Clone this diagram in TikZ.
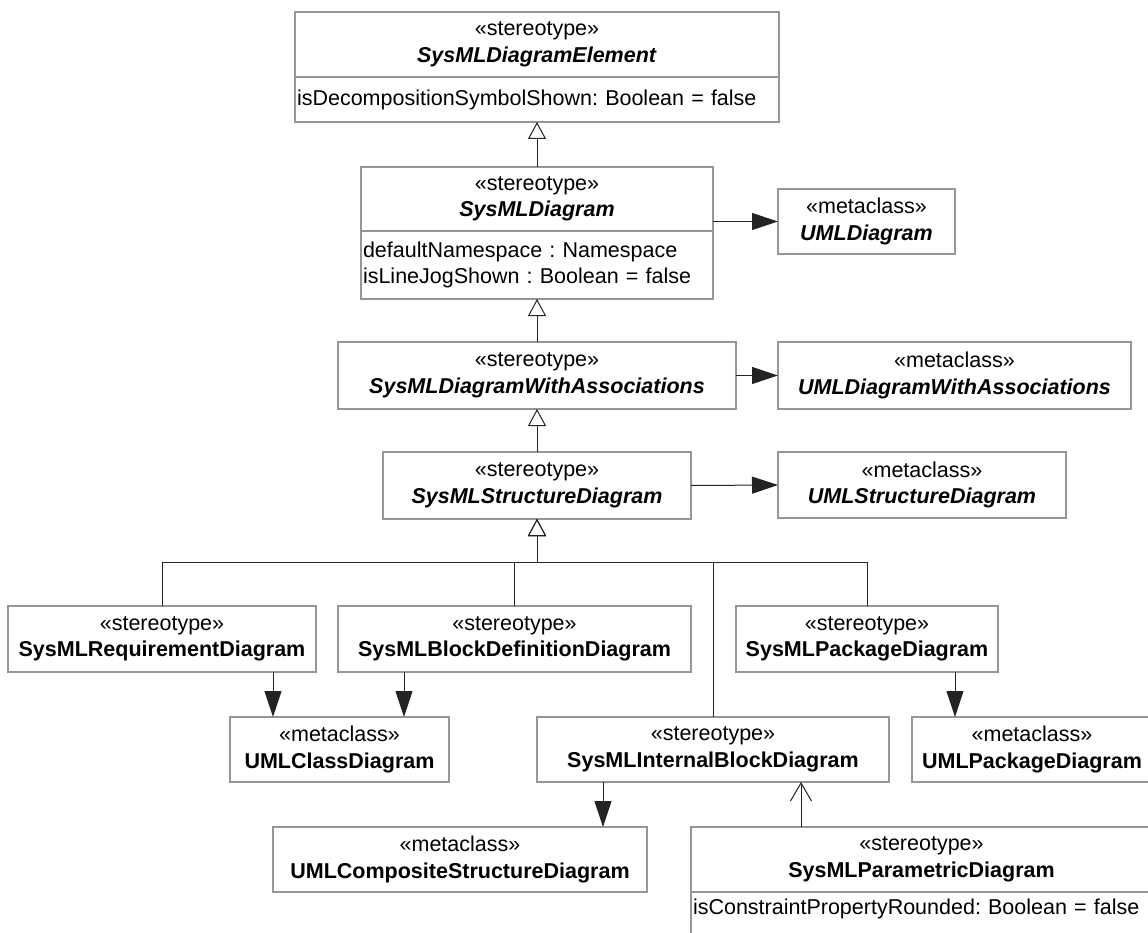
\documentclass[tikz,border=0pt]{standalone}
\usepackage{fontspec}
\setmainfont{Liberation Sans}
\usepackage{xcolor}
\usetikzlibrary{arrows.meta}
\definecolor{boxgray}{RGB}{150,150,150}
\definecolor{wiregray}{RGB}{35,35,35}
\newcommand{\umlsize}{\fontsize{21.5}{26.5}\selectfont\frenchspacing}
\newcommand{\stereotp}{«stereotype»}
\newcommand{\metacls}{«metaclass»}
\newcommand{\absname}[1]{\textbf{\textit{#1}}}

\begin{document}
\begin{tikzpicture}[
x=1pt,y=-1pt,
every node/.style={font=\umlsize},
box/.style={draw=boxgray,line width=1.2pt,anchor=north west,align=center,inner sep=0pt,outer sep=0pt},
attr/.style={draw=boxgray,line width=1.2pt,anchor=north west,align=left,inner xsep=2pt,inner ysep=0pt,outer sep=0pt},
ext/.style={draw=wiregray,line width=1pt,-{Triangle[length=26pt,width=17pt]}},
gen/.style={draw=wiregray,line width=1pt,-{Triangle[open,fill=white,length=17pt,width=18pt]}},
dep/.style={draw=wiregray,line width=1pt,-{Straight Barb[length=18pt,width=21pt]}}
]
\useasboundingbox (0,0) rectangle (1148,933);
\clip (0,0) rectangle (1148,933);
\fill[white] (0,0) rectangle (1148,933);

% top chain
\node[box,minimum width=484,minimum height=65] (elemH) at (295,12) {\stereotp\\\absname{SysMLDiagramElement}};
\node[attr,text width=480,minimum height=45] (elemA) at (elemH.south west) {isDecompositionSymbolShown: Boolean = false};
\node[box,minimum width=352,minimum height=64] (diagH) at (361,167) {\stereotp\\\absname{SysMLDiagram}};
\node[attr,text width=348,minimum height=68] (diagA) at (diagH.south west) {defaultNamespace : Namespace\\isLineJogShown : Boolean = false};
\node[box,minimum width=398,minimum height=67] (assoc) at (338,342) {\stereotp\\\absname{SysMLDiagramWithAssociations}};
\node[box,minimum width=308,minimum height=67] (struct) at (383,452) {\stereotp\\\absname{SysMLStructureDiagram}};

% metaclasses on the right
\node[box,minimum width=177,minimum height=65] (umlD) at (778,189) {\metacls\\\absname{UMLDiagram}};
\node[box,minimum width=353,minimum height=67] (umlDA) at (778,342) {\metacls\\\absname{UMLDiagramWithAssociations}};
\node[box,minimum width=288,minimum height=66] (umlSD) at (778,452) {\metacls\\\absname{UMLStructureDiagram}};

% concrete diagrams
\node[box,minimum width=308,minimum height=66] (req) at (8,606) {\stereotp\\\textbf{SysMLRequirementDiagram}};
\node[box,minimum width=353,minimum height=66] (bdd) at (338,606) {\stereotp\\\textbf{SysMLBlockDefinitionDiagram}};
\node[box,minimum width=262,minimum height=66] (pkg) at (736,606) {\stereotp\\\textbf{SysMLPackageDiagram}};
\node[box,minimum width=219,minimum height=65] (cls) at (230,717) {\metacls\\\textbf{UMLClassDiagram}};
\node[box,minimum width=352,minimum height=65] (ibd) at (537,717) {\stereotp\\\textbf{SysMLInternalBlockDiagram}};
\node[box,minimum width=240,minimum height=65] (umlPD) at (912,717) {\metacls\\\textbf{UMLPackageDiagram}};
\node[box,minimum width=374,minimum height=65] (csd) at (273,827) {\metacls\\\textbf{UMLCompositeStructureDiagram}};
\node[box,minimum width=461,minimum height=65] (parH) at (691,827) {\stereotp\\\textbf{SysMLParametricDiagram}};
\node[attr,text width=457,minimum height=70,text depth=40pt] (parA) at (parH.south west) {isConstraintPropertyRounded: Boolean = false};

\coordinate (fork) at (537,562);

% generalizations
\draw[gen] (diagH.north) -- (elemA.south);
\draw[gen] (assoc.north) -- (diagA.south);
\draw[gen] (struct.north) -- (assoc.south);
\draw[gen] (req.north) |- (fork) -- (struct.south);
\draw[gen] (bdd.north) |- (fork) -- (struct.south);
\draw[gen] (ibd.north) |- (fork) -- (struct.south);
\draw[gen] (pkg.north) |- (fork) -- (struct.south);

% extensions
\draw[ext] (diagH.east |- umlD.west) -- (umlD.west);
\draw[ext] (assoc.east) -- (umlDA.west);
\draw[ext] (struct.east) -- (umlSD.west);
\draw[ext] ([xshift=111pt]req.south) -- ([xshift=-66.5pt]cls.north);
\draw[ext] ([xshift=-110.5pt]bdd.south) -- ([xshift=64.5pt]cls.north);
\draw[ext] ([xshift=88pt]pkg.south) -- ([xshift=-77pt]umlPD.north);
\draw[ext] ([xshift=-110pt]ibd.south) -- ([xshift=143pt]csd.north);

% dependency
\draw[dep] ([xshift=-120.5pt]parH.north) -- ([xshift=88pt]ibd.south);
\end{tikzpicture}
\end{document}
